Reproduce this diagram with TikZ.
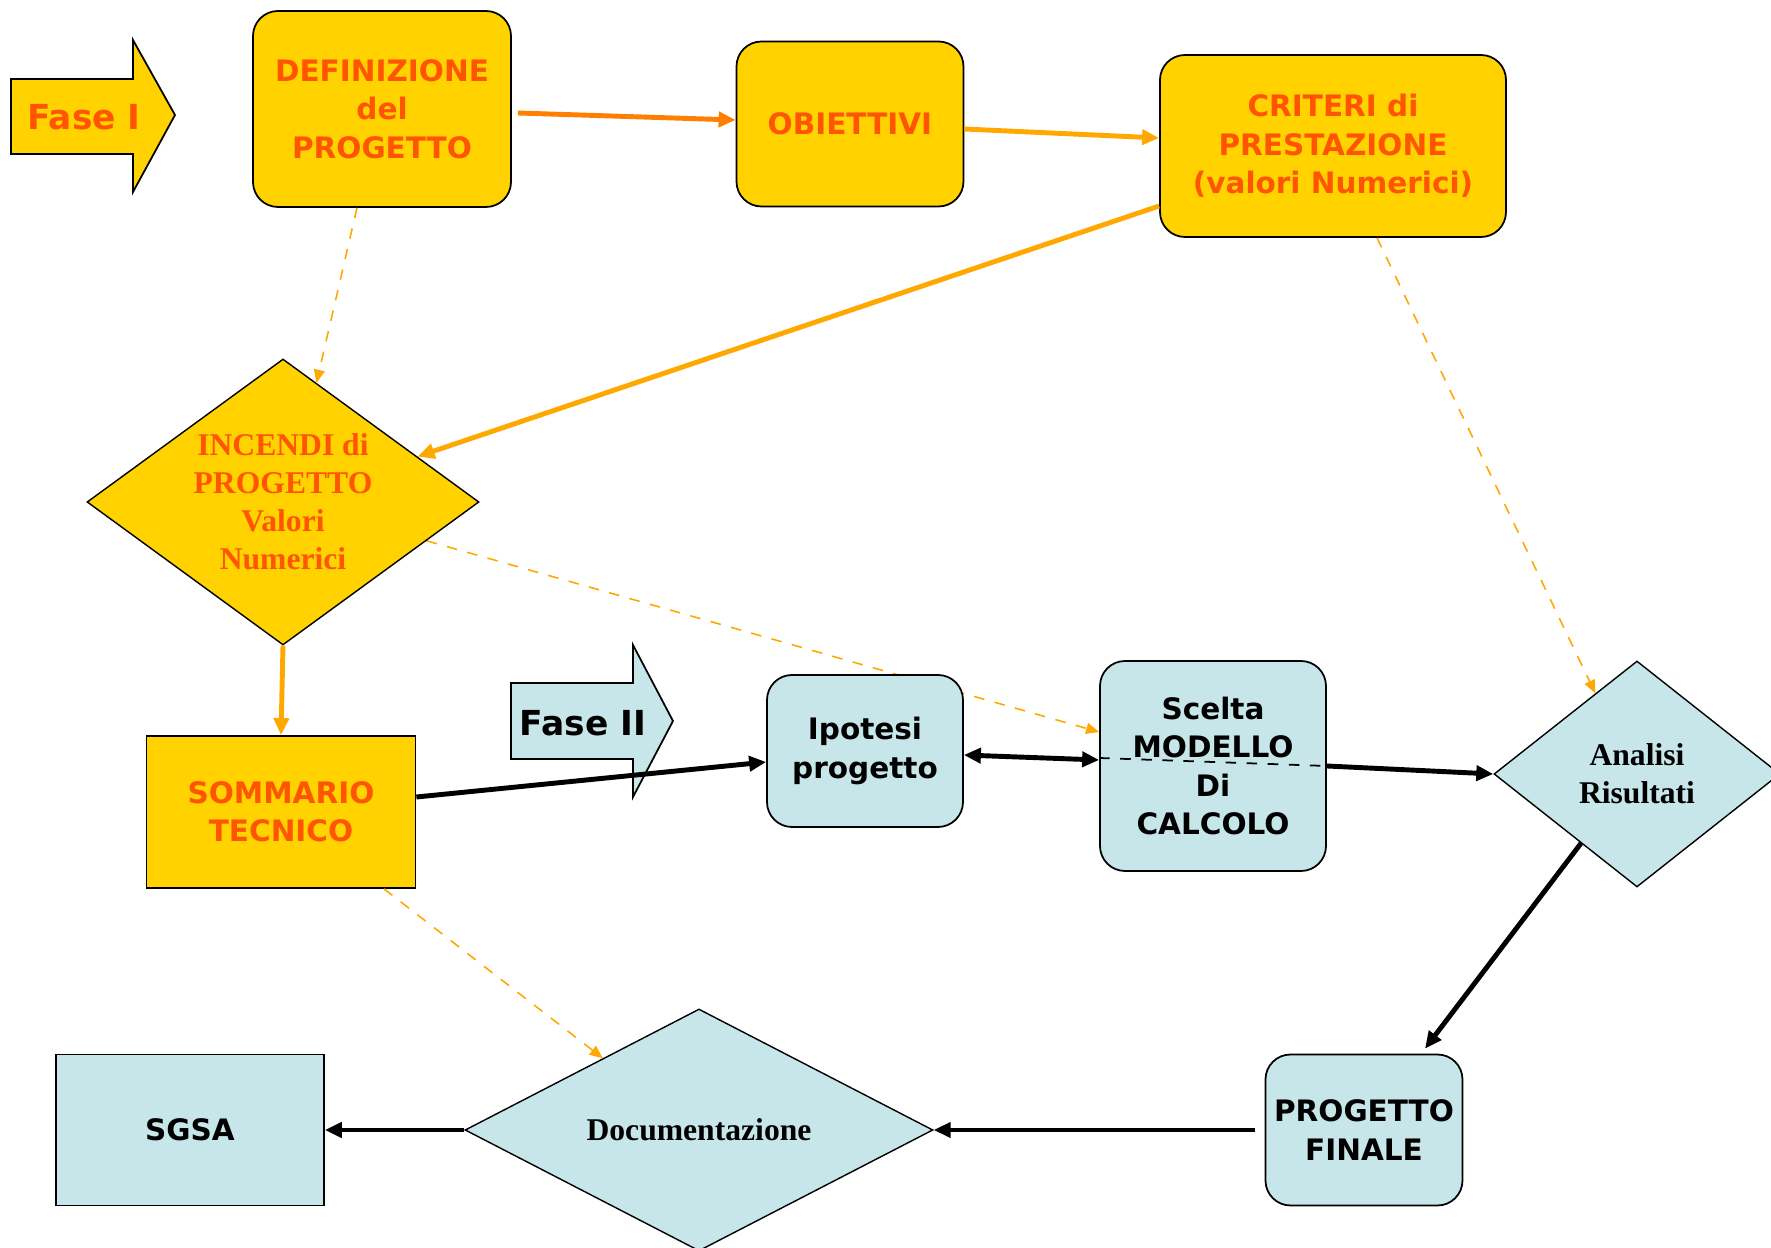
\documentclass[tikz,border=0pt]{standalone}
\usepackage{fontspec}
\newfontfamily\boxfont{DejaVu Sans}
\newfontfamily\diamfont{Liberation Serif}
\usetikzlibrary{shapes.geometric, arrows.meta, calc, backgrounds}

\definecolor{boxgold}{HTML}{FFD200}
\definecolor{textred}{HTML}{FF5500}
\definecolor{boxblue}{HTML}{C6E6E9}
\definecolor{linkorange}{HTML}{FF8000}
\definecolor{linkamber}{HTML}{FFA800}

\begin{document}
\begin{tikzpicture}[
    phase/.style={draw, line width=0.5pt},
    goldbox/.style={draw, line width=0.5pt, fill=boxgold, rounded corners=0.25cm, inner sep=0pt, align=center, text=textred, font=\boxfont\bfseries\fontsize{8.4}{10.9}\selectfont},
    bluebox/.style={draw, line width=0.5pt, fill=boxblue, rounded corners=0.25cm, inner sep=0pt, align=center, font=\boxfont\bfseries\fontsize{8.4}{10.9}\selectfont},
    golddiam/.style={draw, line width=0.4pt, diamond, fill=boxgold, inner sep=0pt, align=center, text=textred, font=\diamfont\bfseries\fontsize{9}{10.8}\selectfont},
    bluediam/.style={draw, line width=0.4pt, diamond, fill=boxblue, inner sep=0pt, align=center, font=\diamfont\bfseries\fontsize{9}{10.8}\selectfont},
    solidlink/.style={line width=1.4pt, -{Triangle[length=1.7mm, width=1.5mm]}},
    dashlink/.style={linkamber, line width=0.45pt, dashed, -{Triangle[length=1.3mm, width=1.1mm]}}
]
    \useasboundingbox (0,0) rectangle (17.71,-12.48);

    % Fase I
    \draw[phase, fill=boxgold] (0.11,-0.79) -- (1.33,-0.79) -- (1.33,-0.40) -- (1.75,-1.15)
        -- (1.33,-1.92) -- (1.33,-1.54) -- (0.11,-1.54) -- cycle;
    \node[text=textred, font=\boxfont\bfseries\fontsize{9.8}{12}\selectfont] (fase1) at (0.84,-1.17) {Fase I};

    \node[goldbox, minimum width=2.58cm, minimum height=1.96cm] (def) at (3.82,-1.09) {DEFINIZIONE\\del\\PROGETTO};
    \node[goldbox, minimum width=2.27cm, minimum height=1.65cm] (obi) at (8.50,-1.24) {OBIETTIVI};
    \node[goldbox, minimum width=3.46cm, minimum height=1.82cm] (crit) at (13.33,-1.46) {CRITERI di\\PRESTAZIONE\\(valori Numerici)};
    \node[golddiam, aspect=1.37, minimum width=3.92cm, minimum height=2.86cm] (inc) at (2.83,-5.02) {INCENDI di\\PROGETTO\\Valori\\Numerici};
    \node[goldbox, rounded corners=0pt, minimum width=2.69cm, minimum height=1.52cm] (somm) at (2.81,-8.12) {SOMMARIO\\TECNICO};

    % Fase II
    \draw[phase, fill=boxblue] (5.11,-6.83) -- (6.33,-6.83) -- (6.33,-6.45) -- (6.73,-7.21)
        -- (6.33,-7.97) -- (6.33,-7.59) -- (5.11,-7.59) -- cycle;
    \node[font=\boxfont\bfseries\fontsize{9.8}{12}\selectfont] (fase2) at (5.83,-7.23) {Fase II};

    \node[bluebox, minimum width=1.96cm, minimum height=1.52cm] (ipo) at (8.65,-7.51) {Ipotesi\\progetto};
    \node[bluebox, minimum width=2.26cm, minimum height=2.10cm] (scel) at (12.13,-7.66) {Scelta\\MODELLO\\Di\\CALCOLO};
    \node[bluediam, aspect=1.27, minimum width=2.86cm, minimum height=2.26cm] (ana) at (16.37,-7.74) {Analisi\\Risultati};

    \node[bluebox, rounded corners=0pt, minimum width=2.68cm, minimum height=1.51cm] (sgsa) at (1.90,-11.30) {SGSA};
    \node[bluediam, aspect=1.93, minimum width=4.68cm, minimum height=2.42cm] (doc) at (6.99,-11.30) {Documentazione};
    \node[bluebox, minimum width=1.97cm, minimum height=1.51cm] (fin) at (13.64,-11.30) {PROGETTO\\FINALE};

    % Fase I links
    \draw[solidlink, linkorange] ([shift={(0.06,-0.04)}]def.east) -- ([yshift=0.04cm]obi.west);
    \draw[solidlink, linkamber] ([yshift=-0.05cm]obi.east) -- ([yshift=0.08cm]crit.west);
    \draw[solidlink, linkamber] ([yshift=-0.6cm]crit.west) -- (inc);
    \draw[solidlink, linkamber] (inc.south) -- (somm.north);
    \draw[dashlink] ([xshift=-0.25cm]def.south) -- ($(inc.north)!0.17!(inc.east)$);
    \draw[dashlink] ([xshift=0.44cm]crit.south) -- ($(ana.north)!0.29!(ana.west)$);
    \draw[dashlink] ([xshift=1.03cm]somm.south) -- ($(doc.north)!0.41!(doc.west)$);
    \begin{scope}[on background layer]
        \draw[dashlink] ($(inc.east)!0.27!(inc.south)$) -- ([yshift=0.34cm]scel.west);
    \end{scope}

    % Fase II links
    \draw[solidlink] ([yshift=0.15cm]somm.east) -- ([yshift=-0.11cm]ipo.west);
    \draw[solidlink, {Triangle[length=1.7mm, width=1.5mm]}-{Triangle[length=1.7mm, width=1.5mm]}] ([yshift=-0.04cm]ipo.east) -- ([yshift=0.06cm]scel.west);
    \draw[line width=0.5pt, dashed] ([yshift=0.08cm]scel.west) -- (scel.east);
    \draw[solidlink] (scel.east) -- (ana.west);
    \draw[solidlink] ($(ana.west)!0.61!(ana.south)$) -- ([shift={(0.61,0.05)}]fin.north);
    \draw[solidlink] ([xshift=-0.1cm]fin.west) -- (doc.east);
    \draw[solidlink] (doc.west) -- (sgsa.east);

\end{tikzpicture}
\end{document}
